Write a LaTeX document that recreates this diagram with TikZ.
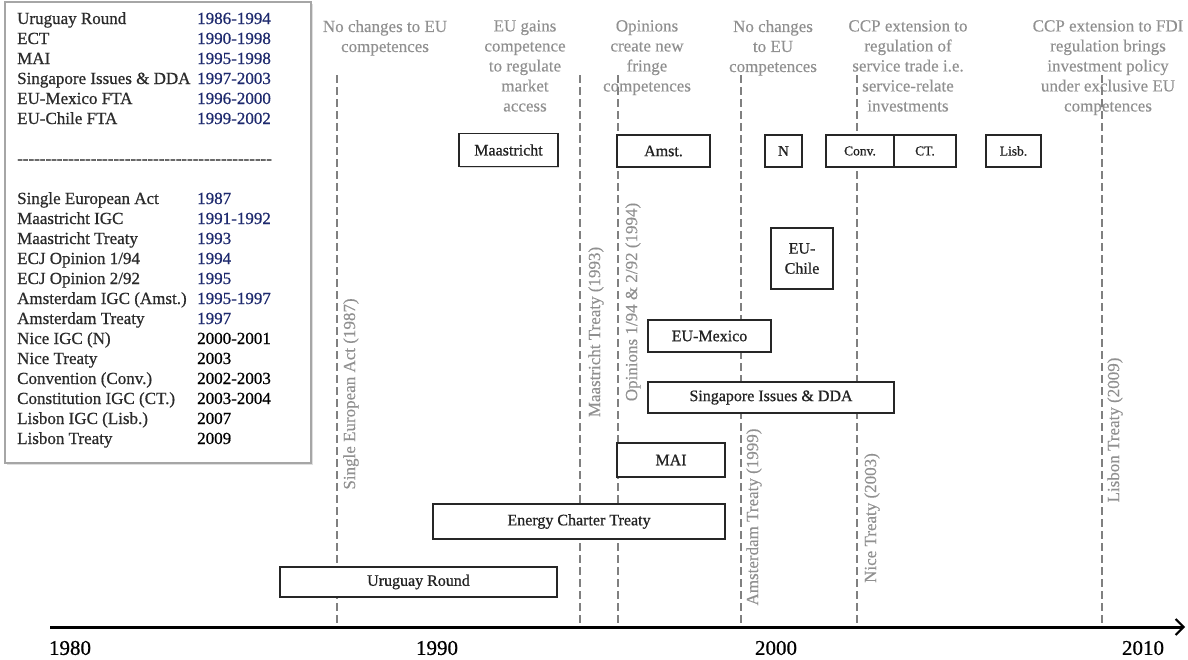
\documentclass[tikz,border=0pt]{standalone}
\usepackage{fontspec}
\setmainfont{Liberation Serif}
\newfontfamily\heavy{Liberation Serif}[FakeBold=0.7]
\newfontfamily\midweight{Liberation Serif}[FakeBold=0.3]
\usetikzlibrary{arrows.meta,shadows}
\definecolor{dashgray}{HTML}{808080}
\definecolor{anngray}{HTML}{909090}
\definecolor{yrblue}{HTML}{1E2A6E}
\definecolor{legtxt}{HTML}{2B2B2B}
\definecolor{boxtxt}{HTML}{222222}
\newcommand{\hyrow}{\foreach \i in {1,...,45}{\hbox{-}}}
\begin{document}
\begin{tikzpicture}[x=1pt,y=-1pt,
  legt/.style={anchor=base west,inner sep=0pt,text=legtxt,font=\heavy\fontsize{17}{20}\selectfont},
  legy/.style={anchor=base west,inner sep=0pt,text=yrblue,font=\heavy\fontsize{17}{20}\selectfont},
  legk/.style={anchor=base west,inner sep=0pt,text=black,font=\heavy\fontsize{17}{20}\selectfont},
  annot/.style={anchor=north,inner sep=0pt,align=center,text=anngray,font=\midweight\fontsize{17}{20}\selectfont},
  rot/.style={rotate=90,inner sep=0pt,text=anngray,font=\midweight\fontsize{17}{20}\selectfont},
  dashln/.style={draw=dashgray,line width=2.8pt,dash pattern=on 8pt off 4pt},
  evbox/.style={draw=black!85,line width=1.3pt,fill=white,inner sep=0pt,text=boxtxt,
     font=\heavy\fontsize{16}{18}\selectfont,align=center,
     drop shadow={shadow xshift=1.2pt,shadow yshift=-1.2pt,opacity=0.3}},
  smbox/.style={evbox,font=\heavy\fontsize{13.5}{16}\selectfont},
  yearlab/.style={inner sep=0pt,text=black,font=\heavy\fontsize{21}{24}\selectfont}]
\useasboundingbox (0,0) rectangle (1188,659);
% legend
\node[draw=black!35,line width=1.4pt,fill=white,minimum width=306pt,minimum height=461pt,inner sep=0pt,
  drop shadow={shadow xshift=1.5pt,shadow yshift=-1.5pt,opacity=0.25}] (legend) at (158,232.5) {};
\node[legt] (n1) at (17,24) {Uruguay Round};          \node[legy] (y1) at (197,24) {1986-1994};
\node[legt] (n2) at (17,44) {ECT};                    \node[legy] (y2) at (197,44) {1990-1998};
\node[legt] (n3) at (17,64) {MAI};                    \node[legy] (y3) at (197,64) {1995-1998};
\node[legt] (n4) at (17,84) {Singapore Issues \& DDA};\node[legy] (y4) at (197,84) {1997-2003};
\node[legt] (n5) at (17,104) {EU-Mexico FTA};         \node[legy] (y5) at (197,104) {1996-2000};
\node[legt] (n6) at (17,124) {EU-Chile FTA};          \node[legy] (y6) at (197,124) {1999-2002};
\node[legt] (sep) at (17,164) {\hyrow};
\node[legt] (m1) at (17,204) {Single European Act};   \node[legy] (z1) at (197,204) {1987};
\node[legt] (m2) at (17,224) {Maastricht IGC};        \node[legy] (z2) at (197,224) {1991-1992};
\node[legt] (m3) at (17,244) {Maastricht Treaty};     \node[legy] (z3) at (197,244) {1993};
\node[legt] (m4) at (17,264) {ECJ Opinion 1/94};      \node[legy] (z4) at (197,264) {1994};
\node[legt] (m5) at (17,284) {ECJ Opinion 2/92};      \node[legy] (z5) at (197,284) {1995};
\node[legt] (m6) at (17,304) {Amsterdam IGC (Amst.)}; \node[legy] (z6) at (197,304) {1995-1997};
\node[legt] (m7) at (17,324) {Amsterdam Treaty};      \node[legy] (z7) at (197,324) {1997};
\node[legt] (m8) at (17,344) {Nice IGC (N)};          \node[legk] (z8) at (197,344) {2000-2001};
\node[legt] (m9) at (17,364) {Nice Treaty};           \node[legk] (z9) at (197,364) {2003};
\node[legt] (m10) at (17,384) {Convention (Conv.)};   \node[legk] (z10) at (197,384) {2002-2003};
\node[legt] (m11) at (17,404) {Constitution IGC (CT.)};\node[legk] (z11) at (197,404) {2003-2004};
\node[legt] (m12) at (17,424) {Lisbon IGC (Lisb.)};   \node[legk] (z12) at (197,424) {2007};
\node[legt] (m13) at (17,444) {Lisbon Treaty};        \node[legk] (z13) at (197,444) {2009};
% top annotations
\node[annot] (a1) at (385,20) {No changes to EU\\competences};
\node[annot] (a2) at (525,20) {EU gains\\competence\\to regulate\\market\\access};
\node[annot] (a3) at (647,20) {Opinions\\create new\\fringe\\competences};
\node[annot] (a4) at (773,20) {No changes\\to EU\\competences};
\node[annot] (a5) at (908,20) {CCP extension to\\regulation of\\service trade i.e.\\service-relate\\investments};
\node[annot] (a6) at (1108,20) {CCP extension to FDI\\regulation brings\\investment policy\\under exclusive EU\\competences};
% rotated labels
\node[rot] (r1) at (351,394) {Single European Act (1987)};
\node[rot] (r2) at (596,332) {Maastricht Treaty (1993)};
\node[rot] (r3) at (633,302) {Opinions 1/94 \& 2/92 (1994)};
\node[rot] (r4) at (754,517) {Amsterdam Treaty (1999)};
\node[rot] (r5) at (872,518) {Nice Treaty (2003)};
\node[rot] (r6) at (1115,430) {Lisbon Treaty (2009)};
% dashed lines
\coordinate (seaT) at (337,75);  \coordinate (seaB) at (337,627);
\coordinate (maaT) at (580,75);  \coordinate (maaB) at (580,627);
\coordinate (opiT) at (618,75);  \coordinate (opiB) at (618,627);
\coordinate (amsT) at (741,75);  \coordinate (amsB) at (741,627);
\coordinate (nicT) at (857,75);  \coordinate (nicB) at (857,627);
\coordinate (lisT) at (1102,75); \coordinate (lisB) at (1102,627);
\draw[dashln] (seaT) -- (seaB);
\draw[dashln] (maaT) -- (maaB);
\draw[dashln] (opiT) -- (opiB);
\draw[dashln] (amsT) -- (amsB);
\draw[dashln] (nicT) -- (nicB);
\draw[dashln] (lisT) -- (lisB);
% event boxes
\node[evbox,minimum width=99pt,minimum height=33pt] (maas) at (508.5,150) {Maastricht};
\node[evbox,minimum width=93pt,minimum height=32pt] (amst) at (663.5,151) {Amst.};
\node[evbox,minimum width=37pt,minimum height=32pt,font=\heavy\fontsize{15}{18}\selectfont] (nice) at (783.5,151) {N};
\node[smbox,minimum width=68pt,minimum height=32pt] (conv) at (860,151) {Conv.};
\node[smbox,minimum width=62pt,minimum height=32pt] (ct) at (925,151) {CT.};
\node[smbox,minimum width=55pt,minimum height=32pt] (lisb) at (1013.5,151) {Lisb.};
\node[evbox,minimum width=62pt,minimum height=61pt,font=\heavy\fontsize{16}{20}\selectfont] (chile) at (802,258.5) {EU-\\Chile};
\node[evbox,minimum width=123pt,minimum height=32pt] (mex) at (709.5,336) {EU-Mexico};
\node[evbox,minimum width=246pt,minimum height=31pt] (sing) at (771,397.5) {Singapore Issues \& DDA};
\node[evbox,minimum width=108pt,minimum height=34pt] (mai) at (671,460) {MAI};
\node[evbox,minimum width=292pt,minimum height=35pt] (ect) at (579,521.5) {Energy Charter Treaty};
\node[evbox,minimum width=277pt,minimum height=30pt] (uru) at (418.5,582) {Uruguay Round};
% axis
\coordinate (axS) at (50,627);
\coordinate (axE) at (1185,627);
\draw[line width=3pt,-{Straight Barb[length=8pt,width=16pt,line width=2pt]}] (axS) -- (axE);
\node[yearlab] (t1980) at (70,648) {1980};
\node[yearlab] (t1990) at (437,648) {1990};
\node[yearlab] (t2000) at (776,648) {2000};
\node[yearlab] (t2010) at (1143,648) {2010};
\end{tikzpicture}
\end{document}
